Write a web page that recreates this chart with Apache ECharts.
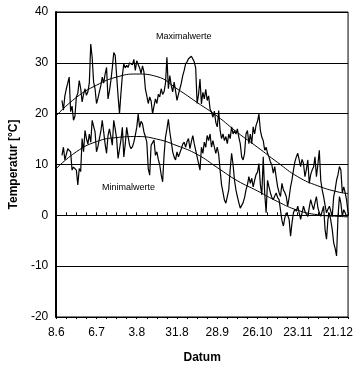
<!DOCTYPE html>
<html><head><meta charset="utf-8">
<script src="https://cdn.jsdelivr.net/npm/echarts@6/dist/echarts.min.js"></script>
<style>html,body{margin:0;padding:0;background:#fff}#c{width:356px;height:369px}</style>
</head><body><div id="c"></div>
<script>
// x axis: days counted from 8.6
const tickLabels = ['8.6','6.7','3.8','31.8','28.9','26.10','23.11','21.12'];
const firstDay = 4;
const maxValues = [
22.6,20.7,23.5,24.9,26.0,27.2,20.4,21.5,18.7,19.5,
23.3,24.0,26.5,25.0,22.3,23.8,24.9,23.6,24.3,26.0,
33.7,31.0,26.2,24.9,22.0,23.0,24.3,25.5,27.2,26.0,
27.8,29.1,22.9,24.5,26.5,29.0,32.0,31.5,27.5,23.5,
20.0,24.0,27.5,29.8,29.0,29.5,29.1,30.0,30.1,29.6,
30.7,28.5,30.4,30.6,29.0,27.9,29.4,28.2,24.9,23.5,
22.0,23.3,22.5,20.0,21.5,22.9,22.0,23.8,23.3,24.9,
23.8,24.3,26.0,31.1,24.9,27.5,25.5,24.3,26.2,24.5,
22.6,23.8,24.9,26.0,27.5,28.5,29.8,30.2,30.8,31.1,
31.3,31.1,30.2,29.0,22.0,23.8,26.8,21.9,24.2,22.9,
24.8,22.6,23.5,20.9,20.3,19.3,20.5,18.3,17.4,20.6,
16.7,15.1,16.0,14.7,15.5,14.1,16.0,15.1,17.4,16.0,
16.7,16.0,17.0,15.4,14.1,11.5,10.9,12.2,16.0,16.7,
14.1,16.0,14.1,17.4,16.0,17.7,18.5,19.9,16.7,15.4,
14.7,12.8,13.4,12.2,11.5,10.5,
9.9,8.3,9.6,7.5,5.6,4.5,3.7,6.3,5.0,4.5,
3.7,1.8,3.5,5.6,7.0,8.9,10.5,11.5,12.2,10.9,
9.6,11.0,10.2,7.6,9.0,10.9,6.3,8.0,8.9,9.5,
11.5,7.6,10.0,12.8,6.9,5.0,3.7,2.0,0.5,1.2,
1.8,0.8,-0.2,3.7,5.0,6.9,8.0,9.6,8.9,4.4,
5.6,4.4,3.0,0.5
];
const minValues = [
11.8,13.4,10.9,12.0,13.1,12.8,12.5,8.9,9.5,9.2,
8.9,6.0,9.2,8.6,15.1,12.5,16.7,15.1,14.0,16.0,
14.4,18.7,17.5,16.4,12.5,13.5,15.1,16.5,18.7,16.4,
14.0,12.2,15.7,17.0,15.5,13.8,18.7,17.0,15.1,11.2,
13.0,14.8,17.3,11.5,14.0,17.3,15.5,13.8,13.1,13.5,
14.4,15.8,17.3,19.9,17.3,18.5,18.0,16.4,15.5,14.4,
9.2,7.9,13.8,14.3,14.8,11.8,12.5,11.0,9.9,8.0,
6.6,11.8,15.4,17.0,18.9,16.4,14.5,12.5,11.5,10.9,
12.5,11.5,11.8,13.1,14.0,14.4,13.4,14.5,15.1,13.1,
14.5,15.7,14.1,12.8,11.5,10.2,8.9,13.4,12.2,14.4,
13.4,15.7,14.7,16.0,13.4,14.7,13.4,12.2,13.4,12.0,
8.9,6.0,4.5,3.0,2.4,2.1,5.0,9.0,12.2,10.0,
6.9,5.0,3.7,2.5,1.4,1.1,2.5,3.5,5.0,6.0,
7.6,6.3,7.3,5.6,6.9,8.0,8.5,10.2,6.0,4.0,
11.5,4.4,0.5,6.9,5.6,4.4,3.5,3.1,3.8,4.4,
3.5,3.1,1.0,-1.0,-2.1,-0.5,0.5,0.0,-0.8,-4.1,
-1.5,0.5,1.2,0.8,1.8,0.5,-0.8,0.5,1.8,0.8,
0.2,-0.2,1.5,3.1,2.0,1.1,2.5,3.7,1.5,0.5,
-0.2,0.8,1.8,-2.8,-4.7,-0.8,0.5,-1.0,-2.8,-5.4,
-6.5,-8.0,-0.2,3.7,2.4,-0.2,1.1,0.5,-0.2,0.2
];
// trend curves read at these days
const trendDays = [0,14,28,42,56,70,84,98,112,126,140,154,168,182,196,203];
const maxTrend = [19.6,23.2,25.6,27.2,27.8,27.3,24.9,22.2,19.5,16.3,13.4,10.4,7.6,5.8,4.6,4.3];
const minTrend = [9.2,12.5,14.5,15.3,15.5,15.0,13.7,12.0,9.4,6.8,4.8,2.7,1.0,0.1,-0.2,-0.3];

const FONT = 'Arial, "Liberation Sans", sans-serif';
const pairs = (vals, start) => vals.map((v, i) => [start + i, v]);
const pairs2 = (xs, ys) => xs.map((x, i) => [x, ys[i]]);

const chart = echarts.init(document.getElementById('c'), null, {renderer: 'canvas'});
const lineBase = {type: 'line', showSymbol: false, symbol: 'none', animation: false,
  lineStyle: {color: '#000', width: 1.2}, z: 3};
chart.setOption({
  animation: false,
  textStyle: {fontFamily: FONT},
  grid: {left: 56, top: 12, right: 2, bottom: 52, show: true, borderColor: '#000', borderWidth: 1},
  xAxis: [
    {type: 'value', min: 0, max: 203, interval: 28,
     axisLine: {onZero: false, lineStyle: {color: '#000', width: 1}},
     axisTick: {show: false}, splitLine: {show: false},
     axisLabel: {color: '#000', fontSize: 12, fontFamily: FONT, margin: 10,
       formatter: v => tickLabels[Math.round(v / 28)] || ''},
     name: 'Datum', nameLocation: 'middle', nameGap: 35,
     nameTextStyle: {color: '#000', fontSize: 12, fontWeight: 'bold', fontFamily: FONT}},
    {type: 'value', min: 0, max: 203, interval: 7, position: 'bottom',
     axisLine: {onZero: true, lineStyle: {color: '#000', width: 1}},
     axisTick: {show: true, inside: true, length: 3, lineStyle: {color: '#000'}},
     axisLabel: {show: false}, splitLine: {show: false}},
    {type: 'value', min: 0, max: 203, interval: 7, position: 'bottom',
     axisLine: {onZero: true, lineStyle: {color: '#000', width: 1}},
     axisTick: {show: true, inside: false, length: 2, lineStyle: {color: '#000'}},
     axisLabel: {show: false}, splitLine: {show: false}}
  ],
  yAxis: {type: 'value', min: -20, max: 40, interval: 10,
    axisLine: {show: true, lineStyle: {color: '#000', width: 2}},
    axisTick: {show: false},
    splitLine: {show: true, lineStyle: {color: '#000', width: 1}},
    axisLabel: {color: '#000', fontSize: 12, fontFamily: FONT, margin: 8},
    name: 'Temperatur [°C]', nameLocation: 'middle', nameGap: 35,
    nameTextStyle: {color: '#000', fontSize: 12, fontWeight: 'bold', fontFamily: FONT}},
  graphic: [
    {type: 'text', left: 156, top: 32, style: {text: 'Maximalwerte', font: '9px ' + FONT, fill: '#000'}},
    {type: 'text', left: 102, top: 183, style: {text: 'Minimalwerte', font: '9px ' + FONT, fill: '#000'}}
  ],
  series: [
    Object.assign({}, lineBase, {name: 'Maximalwerte', data: pairs(maxValues, firstDay)}),
    Object.assign({}, lineBase, {name: 'Minimalwerte', data: pairs(minValues, firstDay)}),
    Object.assign({}, lineBase, {name: 'Trend max', smooth: 0.5, lineStyle: {color: '#000', width: 1}, data: pairs2(trendDays, maxTrend)}),
    Object.assign({}, lineBase, {name: 'Trend min', smooth: 0.5, lineStyle: {color: '#000', width: 1}, data: pairs2(trendDays, minTrend)})
  ]
});
</script></body></html>
